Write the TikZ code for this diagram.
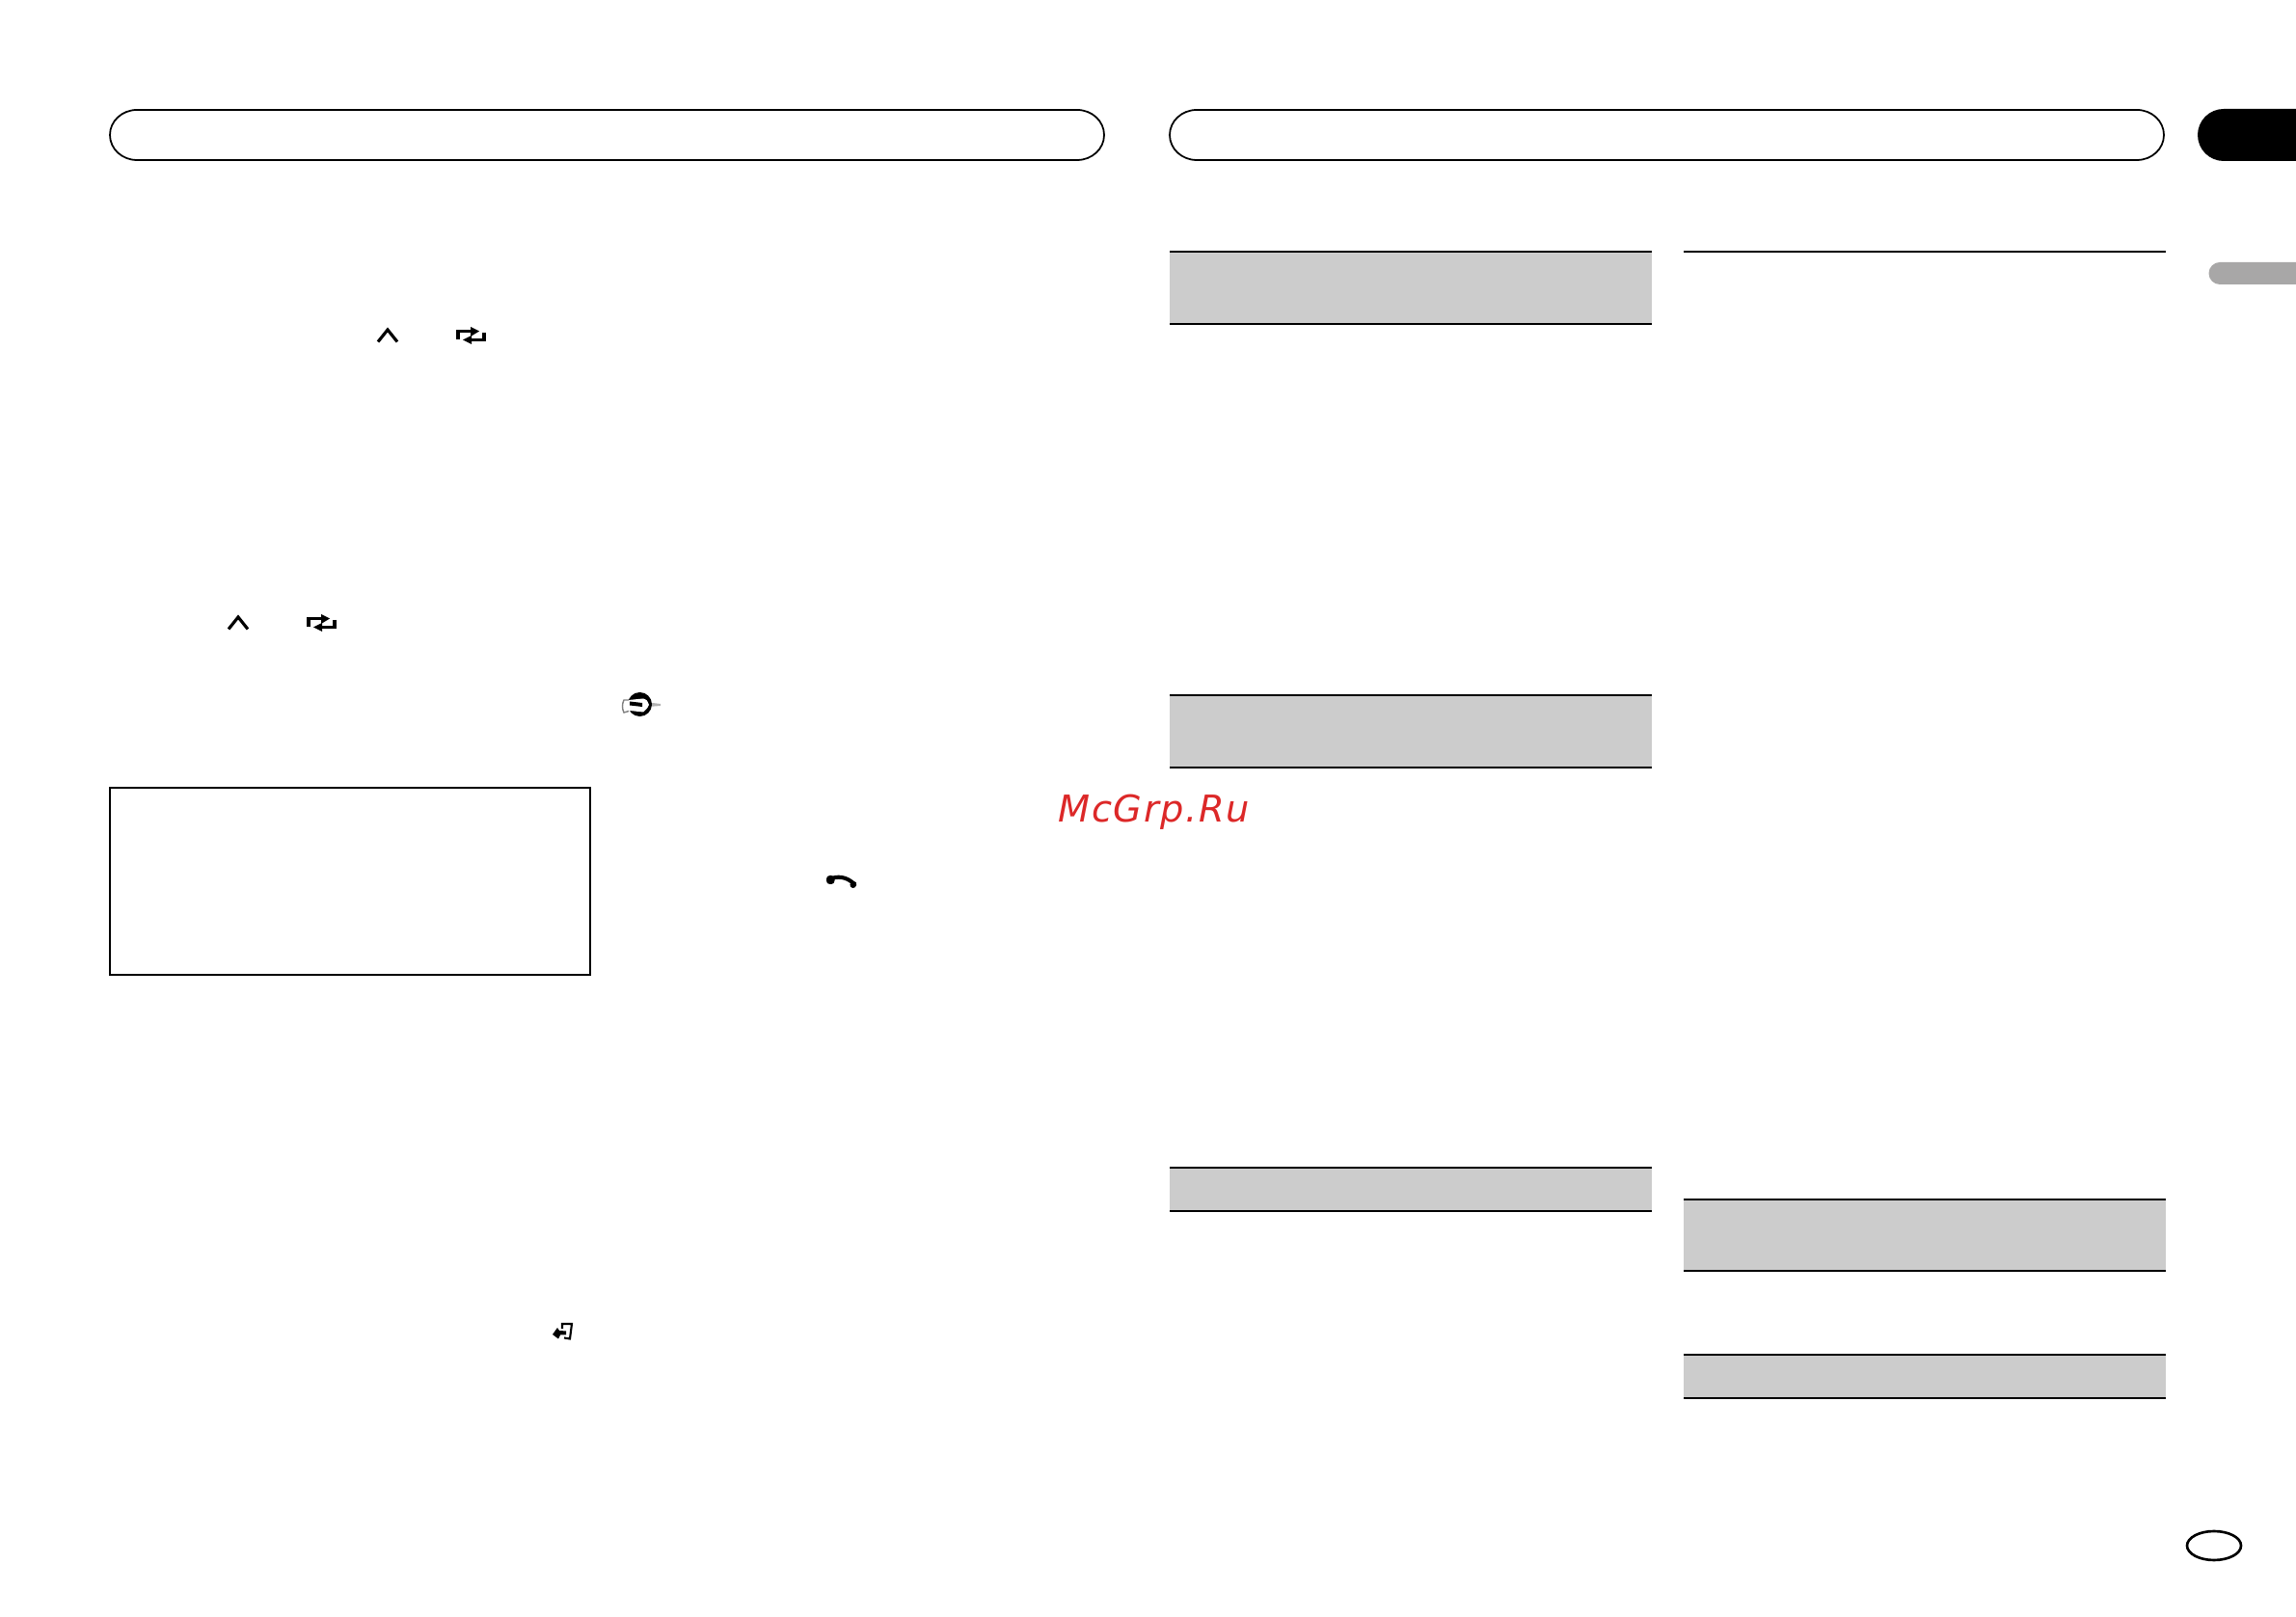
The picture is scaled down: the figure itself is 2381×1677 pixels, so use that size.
\documentclass[tikz,border=0pt]{standalone}
\usepackage{fontspec}
\usetikzlibrary{positioning}
\newfontfamily\wmfont[LetterSpace=4]{DejaVu Sans Oblique}
\definecolor{barfill}{HTML}{CCCCCC}
\definecolor{tabgray}{HTML}{A8A7A7}
\definecolor{wmred}{HTML}{DC2828}
\tikzset{
  rule/.style={line width=0.5pt},
  barrule/.style={line width=0.57pt},
  barbox/.style={fill=barfill,draw=none},
  icon/.style={line width=0.9pt,line cap=butt},
}
\begin{document}
\begin{tikzpicture}[x=0.01cm,y=-0.01cm]
     \useasboundingbox (0,0) rectangle (2381,1677);
     % header pills
     \draw[rule] (142,114) -- (1117,114) arc (-90:90:28 and 26) -- (142,166) arc (90:270:28 and 26) -- cycle;
     \draw[rule] (1241,114) -- (2216,114) arc (-90:90:28 and 26) -- (1241,166) arc (90:270:28 and 26) -- cycle;
     \fill (2381,113) -- (2306,113) arc (270:90:27) -- (2381,167) -- cycle;
     \fill[tabgray] (2381,272) -- (2302,272) arc (270:90:11.5) -- (2381,295) -- cycle;
     % shaded bars of the two right columns
     \foreach \xa/\ya/\yb in {1213/261/336,1213/721/796,1213/1211/1256,1746/1244/1318,1746/1405/1450}{
       \fill[barbox] (\xa,\ya) rectangle (\xa+500,\yb);
       \draw[barrule] (\xa,\ya) -- (\xa+500,\ya);
       \draw[barrule] (\xa,\yb) -- (\xa+500,\yb);
     }
     \draw[barrule] (1746,261) -- (2246,261);
     % framed box
     \draw[barrule] (114,817) rectangle (612,1011);
     % chevron and repeat signs
     \foreach \ox/\oy in {0/0,-155/298}{
       \begin{scope}[shift={(\ox,\oy)}]
       \draw[icon] (392,354.5) -- (402,342) -- (412,354.5);
       \draw[icon] (475,352) -- (475,343.5) -- (490,343.5);
       \fill (488,339) -- (497,343.5) -- (488,349) -- cycle;
       \draw[icon] (502,345) -- (502,352.5) -- (487,352.5);
       \fill (489,348) -- (480,352.5) -- (489,357) -- cycle;
       \end{scope}
     }
     % important mark
     \fill[gray!60] (672,728.5) -- (685,730) -- (685,732) -- (672,733) -- cycle;
     \fill (663.5,730.5) circle (12.5);
     \fill[white] (647,726) -- (652,726) -- (667,724.5) .. controls (671,726) .. (673,731) .. controls (671,735) .. (667,738.5) -- (653,737) -- (647,739) .. controls (645,735) and (645,730) .. (647,726) -- cycle;
     \draw[line width=0.4pt,gray] (652,726) -- (647,726) .. controls (645,730) and (645,735) .. (647,739) -- (652,737.5);
     \fill (653,727.5) -- (666,729) -- (666,733) -- (653,731.5) -- cycle;
     % phone sign
     \draw[line width=1.15pt] (860,912) .. controls (868,908) and (878,909) .. (886,917);
     \fill[rounded corners=1pt] (857,908) rectangle (865.5,917);
     \fill[rounded corners=1pt] (880,917) -- (886,912.5) -- (889.5,918) -- (884,922.5) -- cycle;
     % enter sign
     \draw[line width=0.6pt] (583,1378) -- (583,1373) -- (593,1373) -- (591,1388.5) -- (585,1387.5);
     \fill (573,1384) -- (578,1377) -- (580,1380) -- (587,1380.5) -- (587,1384.5) -- (581,1384.5) -- (579,1388.5) -- cycle;
     % page number oval
     \draw[line width=0.75pt] (2296,1603) ellipse (28 and 15);
     % stamp
     \node[text=wmred,font=\wmfont\fontsize{10.9pt}{12pt}\selectfont,inner sep=0pt,anchor=base west] (stamp) at (1097,853) {McGrp.Ru};
\end{tikzpicture}
\end{document}
